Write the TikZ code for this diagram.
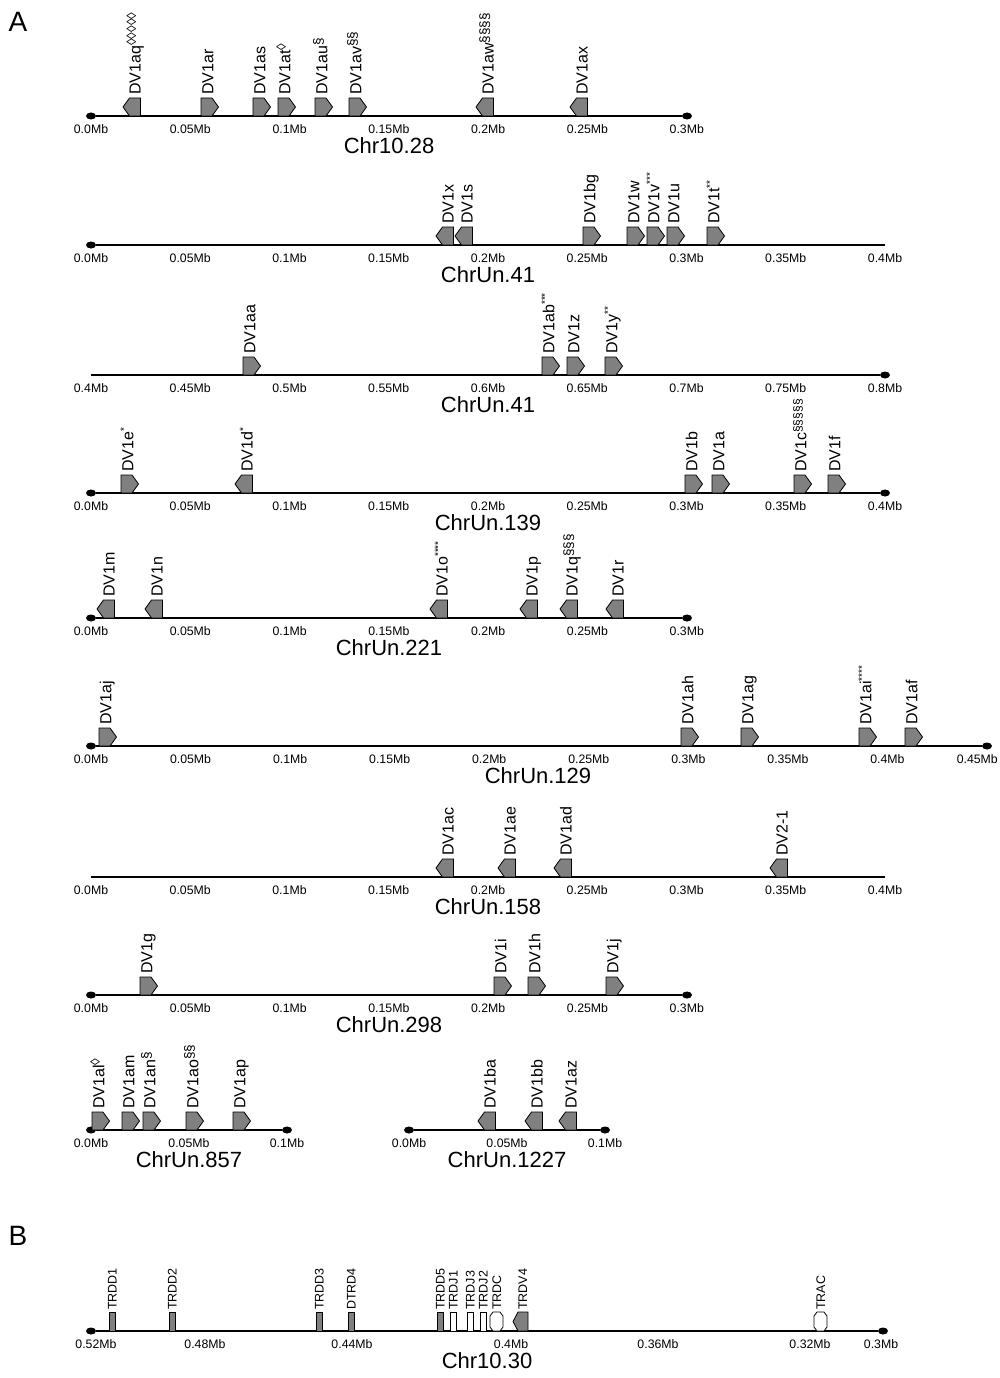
\documentclass[tikz,border=0pt]{standalone}
\usepackage{fontspec}
\setmainfont{Liberation Sans}
\usetikzlibrary{shapes.geometric}

% gene pointing right: name, left x, track y, label
\newcommand{\fwdgene}[4]{%
  \draw[gene] (#2,#3) -- (#2,#3-18) -- (#2+11,#3-18) -- (#2+17.5,#3-9) -- (#2+11,#3) -- cycle;
  \node[genelabel] (#1) at (#2+12.3,#3-21) {#4};}
% gene pointing left: name, left x, track y, label
\newcommand{\revgene}[4]{%
  \draw[gene] (#2,#3-9) -- (#2+6.5,#3-18) -- (#2+17.5,#3-18) -- (#2+17.5,#3) -- (#2+6.5,#3) -- cycle;
  \node[genelabel] (#1) at (#2+17.5,#3-21) {#4};}
% raised marks after a gene name
\newcommand{\gmark}[2][13.5]{\raisebox{4.5pt}{\fontsize{#1}{#1}\selectfont #2}}
\newcommand{\gstar}[1]{\raisebox{6pt}{\fontsize{10}{10}\selectfont #1}}

\begin{document}
\begin{tikzpicture}[x=1pt, y=-1pt,
    gene/.style={draw, fill=gray, line width=0.8pt},
    genelabel/.style={rotate=90, anchor=base west, inner sep=0pt, font=\fontsize{16}{16}\selectfont},
    blabel/.style={rotate=90, anchor=base west, inner sep=0pt, font=\fontsize{12.5}{12.5}\selectfont},
    ticklab/.style={inner sep=0pt, font=\fontsize{12.3}{13}\selectfont},
    chrname/.style={inner sep=0pt, font=\fontsize{22}{22}\selectfont},
    chrend/.style={ellipse, fill, inner sep=0pt, minimum width=10pt, minimum height=7pt},
    chrline/.style={line width=1.5pt},
    panel/.style={anchor=base, inner sep=0pt, font=\fontsize{28}{28}\selectfont}
  ]
  \useasboundingbox (0,0) rectangle (999,1378);

  \node[panel] (pA) at (18,32) {A};
  \node[panel] (pB) at (18,1245) {B};

  % Chr10.28
  \node[chrend] (c1l) at (91,116) {};
  \node[chrend] (c1r) at (687,116) {};
  \draw[chrline] (c1l) -- (c1r);
  \foreach \i/\t in {0/0.0,1/0.05,2/0.1,3/0.15,4/0.2,5/0.25,6/0.3}
    \node[ticklab] (c1t\i) at (91+\i*99.3,129) {\t Mb};
  \node[chrname] (c1n) at (389,146) {Chr10.28};
  \revgene{aq}{123}{116}{DV1aq\gmark{◊◊◊◊◊}}
  \fwdgene{ar}{201}{116}{DV1ar}
  \fwdgene{as}{253}{116}{DV1as}
  \fwdgene{at}{278}{116}{DV1at\gmark{◊}}
  \fwdgene{au}{315}{116}{DV1au\gmark{§}}
  \fwdgene{av}{349}{116}{DV1av\gmark{§§}}
  \revgene{aw}{476}{116}{DV1aw\gmark{§§§§}}
  \revgene{ax}{570}{116}{DV1ax}

  % ChrUn.41, first part
  \node[chrend] (c2l) at (91,245) {};
  \coordinate (c2r) at (885,245);
  \draw[chrline] (c2l) -- (c2r);
  \foreach \i/\t in {0/0.0,1/0.05,2/0.1,3/0.15,4/0.2,5/0.25,6/0.3,7/0.35,8/0.4}
    \node[ticklab] (c2t\i) at (91+\i*99.25,258) {\t Mb};
  \node[chrname] (c2n) at (488,275) {ChrUn.41};
  \revgene{x}{436}{245}{DV1x}
  \revgene{s}{455}{245}{DV1s}
  \fwdgene{bg}{583}{245}{DV1bg}
  \fwdgene{w}{627}{245}{DV1w}
  \fwdgene{v}{647}{245}{DV1v\gstar{***}}
  \fwdgene{u}{667}{245}{DV1u}
  \fwdgene{t}{707}{245}{DV1t\gstar{**}}

  % ChrUn.41, second part
  \coordinate (c3l) at (91,375);
  \node[chrend] (c3r) at (885,375) {};
  \draw[chrline] (c3l) -- (c3r);
  \foreach \i/\t in {0/0.4,1/0.45,2/0.5,3/0.55,4/0.6,5/0.65,6/0.7,7/0.75,8/0.8}
    \node[ticklab] (c3t\i) at (91+\i*99.25,388) {\t Mb};
  \node[chrname] (c3n) at (488,405) {ChrUn.41};
  \fwdgene{aa}{243}{375}{DV1aa}
  \fwdgene{ab}{542}{375}{DV1ab\gstar{***}}
  \fwdgene{z}{567}{375}{DV1z}
  \fwdgene{y}{605}{375}{DV1y\gstar{**}}

  % ChrUn.139
  \node[chrend] (c4l) at (91,493) {};
  \node[chrend] (c4r) at (885,493) {};
  \draw[chrline] (c4l) -- (c4r);
  \foreach \i/\t in {0/0.0,1/0.05,2/0.1,3/0.15,4/0.2,5/0.25,6/0.3,7/0.35,8/0.4}
    \node[ticklab] (c4t\i) at (91+\i*99.25,506) {\t Mb};
  \node[chrname] (c4n) at (488,523) {ChrUn.139};
  \fwdgene{e}{121}{493}{DV1e\gstar{*}}
  \revgene{d}{235}{493}{DV1d\gstar{*}}
  \fwdgene{b}{685}{493}{DV1b}
  \fwdgene{a}{712}{493}{DV1a}
  \fwdgene{c}{794}{493}{DV1c\gmark[12]{§§§§§}}
  \fwdgene{f}{828}{493}{DV1f}

  % ChrUn.221
  \node[chrend] (c5l) at (91,618) {};
  \node[chrend] (c5r) at (687,618) {};
  \draw[chrline] (c5l) -- (c5r);
  \foreach \i/\t in {0/0.0,1/0.05,2/0.1,3/0.15,4/0.2,5/0.25,6/0.3}
    \node[ticklab] (c5t\i) at (91+\i*99.3,631) {\t Mb};
  \node[chrname] (c5n) at (389,648) {ChrUn.221};
  \revgene{m}{97}{618}{DV1m}
  \revgene{n}{145}{618}{DV1n}
  \revgene{o}{430}{618}{DV1o\gstar{****}}
  \revgene{p}{520}{618}{DV1p}
  \revgene{q}{560}{618}{DV1q\gmark{§§§}}
  \revgene{r}{606}{618}{DV1r}

  % ChrUn.129
  \node[chrend] (c6l) at (91,746) {};
  \node[chrend] (c6r) at (987,746) {};
  \draw[chrline] (c6l) -- (c6r);
  \foreach \i/\t in {0/0.0,1/0.05,2/0.1,3/0.15,4/0.2,5/0.25,6/0.3,7/0.35,8/0.4}
    \node[ticklab] (c6t\i) at (91+\i*99.56,759) {\t Mb};
  \node[ticklab, anchor=east] (c6t9) at (998,759) {0.45Mb};
  \node[chrname] (c6n) at (538,776) {ChrUn.129};
  \fwdgene{aj}{99}{746}{DV1aj}
  \fwdgene{ah}{681}{746}{DV1ah}
  \fwdgene{ag}{741}{746}{DV1ag}
  \fwdgene{ai}{859}{746}{DV1ai\gstar{****}}
  \fwdgene{af}{905}{746}{DV1af}

  % ChrUn.158
  \coordinate (c7l) at (91,877);
  \coordinate (c7r) at (885,877);
  \draw[chrline] (c7l) -- (c7r);
  \foreach \i/\t in {0/0.0,1/0.05,2/0.1,3/0.15,4/0.2,5/0.25,6/0.3,7/0.35,8/0.4}
    \node[ticklab] (c7t\i) at (91+\i*99.25,890) {\t Mb};
  \node[chrname] (c7n) at (488,907) {ChrUn.158};
  \revgene{ac}{436}{877}{DV1ac}
  \revgene{ae}{498}{877}{DV1ae}
  \revgene{ad}{554}{877}{DV1ad}
  \revgene{dv2}{770}{877}{DV2-1}

  % ChrUn.298
  \node[chrend] (c8l) at (91,995) {};
  \node[chrend] (c8r) at (687,995) {};
  \draw[chrline] (c8l) -- (c8r);
  \foreach \i/\t in {0/0.0,1/0.05,2/0.1,3/0.15,4/0.2,5/0.25,6/0.3}
    \node[ticklab] (c8t\i) at (91+\i*99.3,1008) {\t Mb};
  \node[chrname] (c8n) at (389,1025) {ChrUn.298};
  \fwdgene{g}{140}{995}{DV1g}
  \fwdgene{i}{494}{995}{DV1i}
  \fwdgene{h}{528}{995}{DV1h}
  \fwdgene{j}{606}{995}{DV1j}

  % ChrUn.857
  \node[chrend] (c9l) at (91,1130) {};
  \node[chrend] (c9r) at (287,1130) {};
  \draw[chrline] (c9l) -- (c9r);
  \foreach \i/\t in {0/0.0,1/0.05,2/0.1}
    \node[ticklab] (c9t\i) at (91+\i*98,1143) {\t Mb};
  \node[chrname] (c9n) at (189,1160) {ChrUn.857};
  \fwdgene{al}{92}{1130}{DV1al\gmark{◊}}
  \fwdgene{am}{122}{1130}{DV1am}
  \fwdgene{an}{143}{1130}{DV1an\gmark{§}}
  \fwdgene{ao}{186}{1130}{DV1ao\gmark{§§}}
  \fwdgene{ap}{233}{1130}{DV1ap}

  % ChrUn.1227
  \node[chrend] (c10l) at (409,1130) {};
  \node[chrend] (c10r) at (605,1130) {};
  \draw[chrline] (c10l) -- (c10r);
  \foreach \i/\t in {0/0.0,1/0.05,2/0.1}
    \node[ticklab] (c10t\i) at (409+\i*98,1143) {\t Mb};
  \node[chrname] (c10n) at (507,1160) {ChrUn.1227};
  \revgene{ba}{478}{1130}{DV1ba}
  \revgene{bb}{525}{1130}{DV1bb}
  \revgene{az}{559}{1130}{DV1az}

  % Chr10.30
  \node[chrend] (c11l) at (91,1331) {};
  \node[chrend] (c11r) at (883,1331) {};
  \draw[chrline] (c11l) -- (c11r);
  \foreach \x/\t [count=\k] in {96/0.52,205/0.48,352/0.44,511/0.4,658/0.36,810/0.32,881/0.3}
    \node[ticklab] (c11t\k) at (\x,1344) {\t Mb};
  \node[chrname] (c11n) at (487,1361) {Chr10.30};
  \foreach \x in {109,169,316,348,437}
    \draw[gene] (\x,1331) rectangle (\x+6.5,1312);
  \foreach \x in {450,467,480}
    \draw[gene, fill=white] (\x,1331) rectangle (\x+6.5,1312);
  \foreach \x in {490,814}
    \draw[gene, fill=white] (\x+3,1331) -- (\x+10,1331) -- (\x+13,1327) -- (\x+13,1316)
      -- (\x+10,1312) -- (\x+3,1312) -- (\x,1316) -- (\x,1327) -- cycle;
  \draw[gene] (513,1321.5) -- (518,1312) -- (528,1312) -- (528,1331) -- (518,1331) -- cycle;
  \foreach \x/\t in {116.5/TRDD1,176.5/TRDD2,323.5/TRDD3,355.5/DTRD4,444.5/TRDD5,
      457.5/TRDJ1,474.5/TRDJ3,487.5/TRDJ2,501/TRDC,527/TRDV4,825/TRAC}
    \node[blabel] (b-\t) at (\x,1310) {\t};
\end{tikzpicture}
\end{document}
